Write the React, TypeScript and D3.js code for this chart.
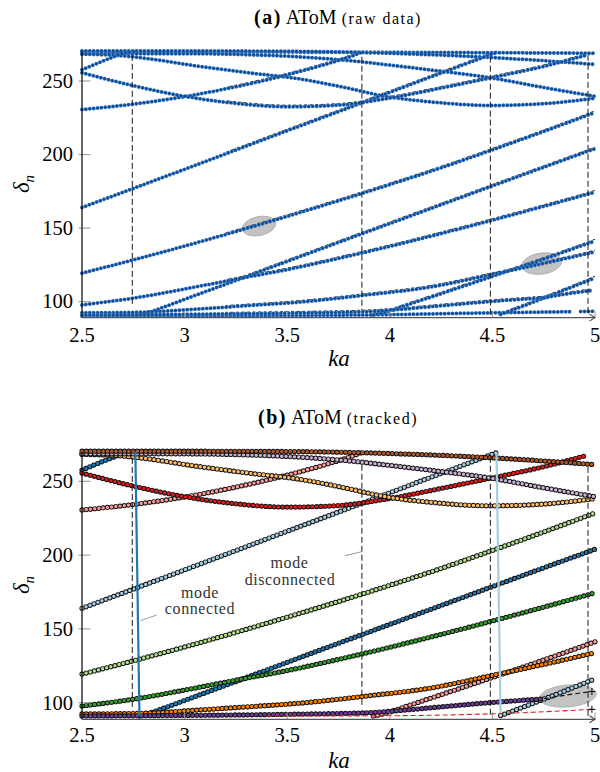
import React from "react";
import * as d3 from "d3";

type Pt = [number, number];

// Axis ticks
const KA_TICKS = [2.5, 3, 3.5, 4, 4.5, 5];
const KA_TICK_LABELS = ["2.5", "3", "3.5", "4", "4.5", "5"];
const DELTA_TICKS = [100, 150, 200, 250];

// Mode branches: [ka, delta_n]
const LIGHT_BLUE_1: Pt[] = [[2.5, 164.0], [2.75, 177.0], [3.0, 190.0], [3.25, 203.1], [3.5, 216.2], [3.75, 229.2], [4.0, 242.3], [4.25, 255.4], [4.52, 269.4]];
const LIGHT_BLUE_2: Pt[] = [[4.54, 91.3], [4.75, 102.4], [5.0, 116.2]];
const BLUE_1: Pt[] = [[2.5, 257.6], [2.58, 262.3], [2.65, 266.2], [2.7, 268.6], [2.74, 269.8], [2.76, 270.1]];
const BLUE_2: Pt[] = [[2.78, 91.0], [2.82, 92.6], [2.9, 96.4], [3.0, 101.6], [3.25, 114.4], [3.5, 127.4], [3.75, 140.3], [4.0, 153.1], [4.25, 165.9], [4.5, 178.7], [4.75, 191.4], [5.0, 204.0]];
const LIGHT_GREEN: Pt[] = [[2.5, 119.4], [2.75, 128.4], [3.0, 137.8], [3.25, 147.7], [3.5, 158.0], [3.75, 168.6], [4.0, 179.6], [4.25, 191.0], [4.5, 203.2], [4.75, 215.7], [5.0, 228.6]];
const GREEN: Pt[] = [[2.5, 97.8], [2.75, 102.4], [3.0, 108.6], [3.25, 115.3], [3.5, 121.8], [3.75, 129.4], [4.0, 137.6], [4.25, 146.3], [4.5, 155.4], [4.75, 164.8], [5.0, 174.5]];
const PINK_1: Pt[] = [[2.5, 230.6], [2.75, 234.3], [3.0, 239.4], [3.25, 246.1], [3.5, 254.2], [3.7, 261.9], [3.82, 267.2], [3.86, 269.4]];
const PINK_2: Pt[] = [[3.92, 91.0], [3.96, 92.2], [4.1, 98.5], [4.3, 107.8], [4.54, 119.0], [4.75, 129.0], [5.0, 141.3]];
const RED: Pt[] = [[2.5, 255.6], [2.75, 246.8], [3.0, 239.6], [3.25, 234.8], [3.5, 232.5], [3.75, 233.6], [4.0, 238.4], [4.25, 245.2], [4.5, 252.4], [4.75, 259.9], [4.96, 267.6]];
const LIGHT_ORANGE: Pt[] = [[2.5, 268.2], [2.65, 267.6], [2.8, 265.6], [3.05, 260.4], [3.3, 255.8], [3.56, 251.4], [3.8, 245.0], [3.97, 239.8], [4.2, 235.8], [4.49, 233.4], [4.75, 234.6], [5.0, 238.3]];
const ORANGE: Pt[] = [[2.5, 92.4], [2.78, 92.8], [3.08, 95.2], [3.3, 97.2], [3.56, 99.7], [3.89, 104.6], [4.2, 110.0], [4.5, 118.6], [4.75, 126.0], [5.0, 133.9]];
const LAVENDER: Pt[] = [[2.5, 268.6], [3.0, 268.6], [3.3, 267.9], [3.56, 266.4], [3.8, 263.9], [4.0, 260.8], [4.2, 257.5], [4.49, 252.2], [4.75, 245.6], [5.0, 239.6]];
const PURPLE: Pt[] = [[2.5, 91.0], [3.0, 91.4], [3.56, 92.3], [3.9, 93.3], [4.0, 94.2], [4.25, 97.2], [4.5, 100.2], [4.75, 102.6]];
const PURPLE_TAIL: Pt[] = [[4.75, 102.6], [4.85, 105.0], [4.985, 107.6]];
const BROWN: Pt[] = [[2.5, 270.4], [3.0, 270.4], [3.5, 270.2], [3.8, 269.6], [4.05, 268.6], [4.3, 267.3], [4.54, 265.6], [4.75, 263.8], [5.0, 261.3]];
// raw-only branches
const FLAT_TOP: Pt[] = [[2.5, 269.8], [4.0, 269.5], [5.0, 268.9]];
const FLOOR_1: Pt[] = [[2.5, 90.3], [3.5, 90.6], [4.0, 91.2], [4.4, 92.2], [4.89, 93.2]];
const FLOOR_2: Pt[] = [[4.93, 93.3], [5.0, 93.5]];
// lost track drawn dashed in the tracked panel
const RED_LOST: Pt[] = [[3.4, 91.0], [4.0, 91.2], [4.54, 92.7], [4.985, 95.5]];

// Wrap markers (vertical dashed lines)
const WRAP_KA = [2.745, 3.864, 4.49, 4.966];
const WRAP_RAW_FROM = [267.8, 266.5, 266.6, 267.8];
const WRAP_RAW_TO = [96.6, 94.3, 90.0, 92.0];
const WRAP_TRK_FROM = [265.8, 261.2, 266.6, 259.8];
const WRAP_TRK_TO = [95.0, 97.0, 90.3, 89.0];

const TRACKED: { pts: Pt[]; color: string }[] = [
  { pts: LIGHT_BLUE_1, color: "#a6cee3" },
  { pts: LIGHT_BLUE_2, color: "#a6cee3" },
  { pts: BLUE_1, color: "#1f78b4" },
  { pts: BLUE_2, color: "#1f78b4" },
  { pts: LIGHT_GREEN, color: "#b2df8a" },
  { pts: GREEN, color: "#33a02c" },
  { pts: PINK_1, color: "#fb9a99" },
  { pts: PINK_2, color: "#fb9a99" },
  { pts: RED, color: "#e31a1c" },
  { pts: LIGHT_ORANGE, color: "#fdbf6f" },
  { pts: ORANGE, color: "#ff7f00" },
  { pts: LAVENDER, color: "#cab2d6" },
  { pts: PURPLE, color: "#6a3d9a" },
  { pts: BROWN, color: "#b15928" },
];

const RAW_FLAT = [FLAT_TOP, BROWN, LAVENDER, LIGHT_ORANGE, FLOOR_1, FLOOR_2];
const RAW_MOVING = [LIGHT_BLUE_1, LIGHT_BLUE_2, BLUE_1, BLUE_2, LIGHT_GREEN, GREEN, PINK_1, PINK_2, RED, ORANGE, PURPLE, PURPLE_TAIL];

const FONT = "'Liberation Serif', 'Times New Roman', serif";
const X0 = 82;
const X1 = 595;

const x = d3.scaleLinear().domain([2.5, 5]).range([X0, X1]);

interface PanelGeo {
  top: number;
  bottom: number;
  axisY: number;
  titleY: number;
  tickY: number;
  labelY: number;
  labelCY: number;
}

const GEO_A: PanelGeo = { top: 51.6, bottom: 316.4, axisY: 317.6, titleY: 24, tickY: 341.7, labelY: 366, labelCY: 184 };
const GEO_B: PanelGeo = { top: 451.8, bottom: 717.5, axisY: 719.3, titleY: 424, tickY: 741.7, labelY: 768, labelCY: 585 };

function makeLine(y: d3.ScaleLinear<number, number>) {
  return d3
    .line<Pt>()
    .x((p) => x(p[0]))
    .y((p) => y(p[1]))
    .curve(d3.curveMonotoneX);
}

function Chain({ d, edge, fill, outer, inner, gap }: { d: string; edge: string; fill: string; outer: number; inner: number; gap: number }) {
  return (
    <g>
      <path d={d} fill="none" stroke={edge} strokeWidth={outer} strokeLinecap="round" strokeDasharray={`0 ${gap}`} />
      <path d={d} fill="none" stroke={fill} strokeWidth={inner} strokeLinecap="round" strokeDasharray={`0 ${gap}`} />
    </g>
  );
}

function Axes({ y, g, title, sub, tag }: { y: d3.ScaleLinear<number, number>; g: PanelGeo; title: string; sub: string; tag: string }) {
  return (
    <g fontFamily={FONT} fill="#000">
      {DELTA_TICKS.map((v) => (
        <line key={"yt" + v} x1={X0 - 3.5} x2={X0 + 8.5} y1={y(v)} y2={y(v)} stroke="#9a9a9a" strokeWidth={1.1} />
      ))}
      {DELTA_TICKS.map((v) => (
        <text key={"yl" + v} x={73} y={y(v) + 6.8} textAnchor="end" fontSize={20.5}>
          {v}
        </text>
      ))}
      {KA_TICKS.map((v) => (
        <line key={"xt" + v} x1={x(v)} x2={x(v)} y1={g.axisY} y2={g.axisY - 7} stroke="#9a9a9a" strokeWidth={1} />
      ))}
      {KA_TICKS.map((v, i) => (
        <text key={"xl" + v} x={x(v)} y={g.tickY} textAnchor="middle" fontSize={20.5}>
          {KA_TICK_LABELS[i]}
        </text>
      ))}
      <line x1={X0} x2={X0} y1={g.top} y2={g.axisY} stroke="#000" strokeWidth={1.2} />
      <line x1={X0} x2={X1 - 0.5} y1={g.axisY} y2={g.axisY} stroke="#555" strokeWidth={1.2} />
      <path
        d={`M${X1 - 5.5},${g.axisY - 3.5} L${X1},${g.axisY} L${X1 - 5.5},${g.axisY + 3.5}`}
        fill="none"
        stroke="#444"
        strokeWidth={1.1}
      />
      <text x={338} y={g.titleY} textAnchor="middle" fontSize={20}>
        <tspan fontWeight="bold" letterSpacing={1.5}>{tag}</tspan>
        <tspan> {title} </tspan>
        <tspan fontSize={16} letterSpacing={1.5}>{sub}</tspan>
      </text>
      <text x={339} y={g.labelY} textAnchor="middle" fontSize={23} fontStyle="italic">
        ka
      </text>
      <text transform={`translate(29,${g.labelCY}) rotate(-90)`} textAnchor="middle" fontSize={23} fontStyle="italic">
        δ<tspan fontSize={15} dy={5}>n</tspan>
      </text>
    </g>
  );
}

function Plus({ px, py }: { px: number; py: number }) {
  return (
    <g stroke="#000" strokeWidth={1}>
      <line x1={px - 3.5} x2={px + 3.5} y1={py} y2={py} />
      <line x1={px} x2={px} y1={py - 3.5} y2={py + 3.5} />
    </g>
  );
}

export default function App() {
  const yA = d3.scaleLinear().domain([90, 270]).range([GEO_A.bottom, GEO_A.top]);
  const yB = d3.scaleLinear().domain([90, 270]).range([GEO_B.bottom, GEO_B.top]);
  const lineA = makeLine(yA);
  const lineB = makeLine(yB);

  const rawDots = { edge: "#3f7cc2", fill: "#0c4c98", outer: 4.0, inner: 2.8, gap: 3.9 };
  const trkDots = { edge: "#111", outer: 5.2, inner: 3.4, gap: 4.25 };

  const lb1End = LIGHT_BLUE_1[LIGHT_BLUE_1.length - 1];
  const lb2Start = LIGHT_BLUE_2[0];
  const b1End = BLUE_1[BLUE_1.length - 1];
  const b2Start = BLUE_2[0];
  const redEnd = RED_LOST[RED_LOST.length - 1];
  const tailEnd = PURPLE_TAIL[PURPLE_TAIL.length - 1];

  return (
    <svg width={600} height={772} viewBox="0 0 600 772" style={{ position: "absolute", left: 0, top: 0, background: "#fff" }}>
      <defs>
        <clipPath id="riseClip">
          <rect x={x(3.2)} y={0} width={X1 + 5 - x(3.2)} height={330} />
        </clipPath>
      </defs>

      {/* (a) raw data */}
      <ellipse cx={x(3.363)} cy={yA(151.4)} rx={17} ry={9.5} transform={`rotate(-12 ${x(3.363)} ${yA(151.4)})`} fill="#c3c3c3" stroke="#aaa" strokeWidth={0.8} />
      <ellipse cx={x(4.74)} cy={yA(125.9)} rx={20} ry={10.6} transform={`rotate(-8 ${x(4.74)} ${yA(125.9)})`} fill="#c3c3c3" stroke="#aaa" strokeWidth={0.8} />
      <g clipPath="url(#riseClip)" transform="translate(0,-1.6)">
        {RAW_MOVING.map((pts, i) => (
          <path key={"rd" + i} d={lineA(pts) || ""} fill="none" stroke="#222" strokeWidth={1} strokeDasharray="3 2.5" />
        ))}
      </g>
      {[...RAW_FLAT, ...RAW_MOVING].map((pts, i) => (
        <Chain key={"ra" + i} d={lineA(pts) || ""} {...rawDots} />
      ))}
      {WRAP_KA.map((k, i) => (
        <line key={"wa" + i} x1={x(k)} x2={x(k)} y1={yA(WRAP_RAW_FROM[i])} y2={yA(WRAP_RAW_TO[i])} stroke="#1a1a1a" strokeWidth={1} strokeDasharray="6 3" />
      ))}
      <Axes y={yA} g={GEO_A} tag="(a)" title="AToM" sub="(raw data)" />

      {/* (b) tracked */}
      <ellipse cx={x(4.868)} cy={yB(104.6)} rx={28.5} ry={11} transform={`rotate(-5 ${x(4.868)} ${yB(104.6)})`} fill="#c3c3c3" stroke="#aaa" strokeWidth={0.8} />
      {TRACKED.map((m, i) => (
        <Chain key={"tb" + i} d={lineB(m.pts) || ""} fill={m.color} {...trkDots} />
      ))}
      {WRAP_KA.map((k, i) => (
        <line key={"wb" + i} x1={x(k)} x2={x(k)} y1={yB(WRAP_TRK_FROM[i])} y2={yB(WRAP_TRK_TO[i])} stroke="#1a1a1a" strokeWidth={1} strokeDasharray="6 3" />
      ))}
      <line x1={x(b1End[0])} y1={yB(b1End[1])} x2={x(b2Start[0])} y2={yB(b2Start[1])} stroke="#1f78b4" strokeWidth={2.2} />
      <line x1={x(lb1End[0])} y1={yB(lb1End[1])} x2={x(lb2Start[0])} y2={yB(lb2Start[1])} stroke="#a6cee3" strokeWidth={2.2} />
      <path d={lineB(RED_LOST) || ""} fill="none" stroke="#e31a1c" strokeWidth={1.1} strokeDasharray="5 3" />
      <path d={lineB(PURPLE_TAIL) || ""} fill="none" stroke="#111" strokeWidth={1.1} strokeDasharray="5 3" />
      <Plus px={x(redEnd[0])} py={yB(redEnd[1])} />
      <Plus px={x(tailEnd[0])} py={yB(tailEnd[1])} />

      <g fontFamily={FONT} fill="#333" fontSize={16} textAnchor="middle">
        <line x1={140.5} y1={620.7} x2={156.7} y2={615} stroke="#999" strokeWidth={1} />
        <text x={200} y={597.5} letterSpacing={0.6}>mode</text>
        <text x={200} y={614} letterSpacing={0.6}>connected</text>
        <line x1={345} y1={555.7} x2={361.7} y2={551.7} stroke="#999" strokeWidth={1} />
        <text x={289.5} y={568} letterSpacing={0.6}>mode</text>
        <text x={290} y={584.5} letterSpacing={0.6}>disconnected</text>
      </g>
      <Axes y={yB} g={GEO_B} tag="(b)" title="AToM" sub="(tracked)" />
    </svg>
  );
}
